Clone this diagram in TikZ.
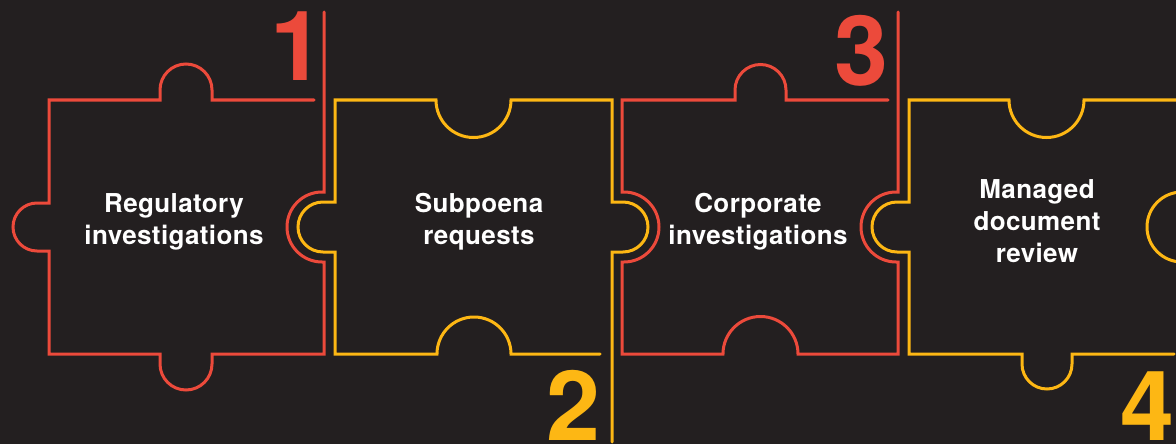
\documentclass[tikz,border=0pt]{standalone}
\usepackage{fontspec}
\setmainfont{TeX Gyre Heros}
\newfontfamily\piecefont[LetterSpace=1.5]{TeX Gyre Heros}
\definecolor{bgdark}{HTML}{231F20}
\definecolor{pzred}{HTML}{EC4A3B}
\definecolor{pzyellow}{HTML}{FDB714}

\begin{document}
\begin{tikzpicture}[x=1pt,y=1pt,
  piecetext/.style={text=white,align=center,inner sep=0pt,
    font=\piecefont\bfseries\fontsize{26}{32}\selectfont},
  bignum/.style={inner sep=0pt,anchor=base,
    font=\bfseries\fontsize{97}{97}\selectfont},
  redline/.style={pzred,line width=3pt,line cap=round},
  yellowline/.style={pzyellow,line width=3pt,line cap=round}]
\fill [bgdark] (0,0) rectangle (1176,-444);
\useasboundingbox (0,0) rectangle (1176,-444);
\clip (0,0) rectangle (1176,-444);
% piece 1
\draw [redline] (314,-100) -- (212,-100) -- (212,-90) arc (0:180:26) -- (160,-100)
  -- (49,-100) -- (49,-203) -- (37,-203) arc (90:270:24) -- (49,-251) -- (49,-354)
  -- (160,-354) -- (160,-364) arc (180:360:26) -- (212,-354) -- (324,-354)
  -- (324,-262) -- (322,-262) arc (270:90:35) -- (324,-192) -- (324,-12);
% piece 2
\draw [yellowline] (600,-354) -- (511,-354) arc (0:180:37) -- (437,-354) -- (335,-354)
  -- (335,-252) -- (323,-252) arc (270:90:25) -- (335,-202) -- (335,-100)
  -- (436,-100) arc (180:360:37.5) -- (612,-100) -- (612,-202) -- (623,-202)
  arc (90:-90:25) -- (612,-252) -- (612,-442);
% piece 3
\draw [redline] (888,-100) -- (786,-100) -- (786,-90) arc (0:180:25.5) -- (735,-100)
  -- (622,-100) -- (622,-192) -- (624,-192) arc (90:-90:35) -- (622,-262)
  -- (622,-354) -- (723,-354) arc (180:0:37.5) -- (898,-354) -- (898,-262)
  -- (896,-262) arc (270:90:35) -- (898,-192) -- (898,-12);
% piece 4
\draw [yellowline] (1174,-354) -- (1072,-354) -- (1072,-364) arc (360:180:25)
  -- (1022,-354) -- (909,-354) -- (909,-252) -- (897,-252) arc (270:90:25)
  -- (909,-202) -- (909,-100) -- (1009,-100) arc (180:360:37.5) -- (1186,-100)
  -- (1186,-192) -- (1182,-192) arc (90:270:35) -- (1186,-262) -- (1186,-442);
% texts
\node [piecetext] (regulatory) at (174,-222) {Regulatory\\investigations};
\node [piecetext] (subpoena) at (479,-222) {Subpoena\\requests};
\node [piecetext] (corporate) at (758,-222) {Corporate\\investigations};
\node [piecetext] (managed) at (1037,-221) {Managed\\document\\review};
% numbers
\node [bignum,pzred] (one) at (297.7,-81) {1};
\node [bignum,pzyellow] (two) at (573.5,-440) {2};
\node [bignum,pzred] (three) at (861.6,-85) {3};
\node [bignum,pzyellow] (four) at (1147,-440) {4};
\end{tikzpicture}
\end{document}
